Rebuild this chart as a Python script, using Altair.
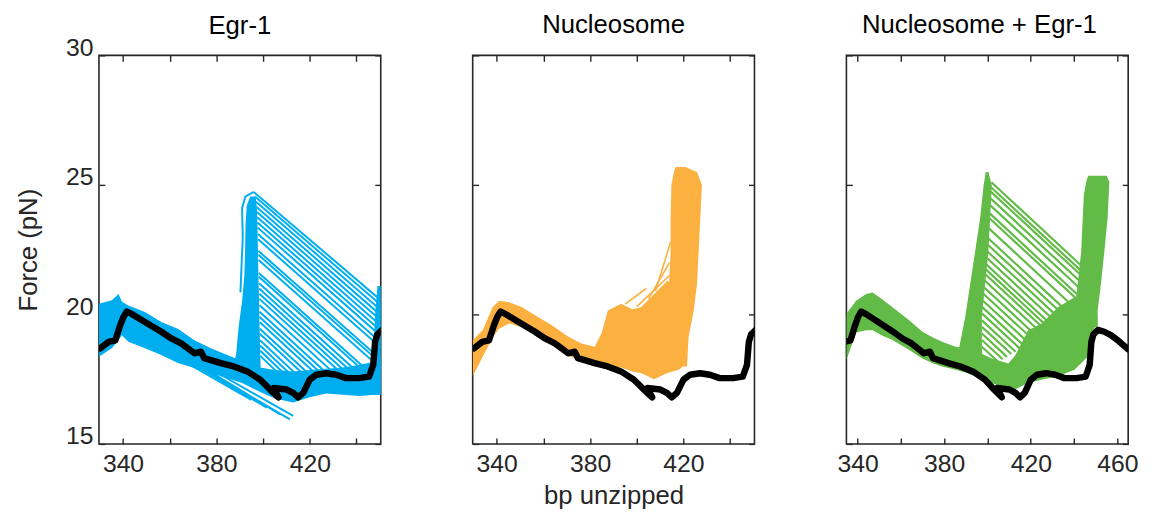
import json
import altair as alt
import pandas as pd

FONT = "Liberation Sans"
AX = "#262626"
BLUE = "#00AEEF"
ORANGE = "#FBB040"
GREEN = "#62BB46"

titles = ["Egr-1", "Nucleosome", "Nucleosome + Egr-1"]
x_ticks = [340, 360, 380, 400, 420, 440, 460]
x_tick_labels = [340, 380, 420, 460]
y_ticks = [15, 20, 25, 30]

# reference (black) curve, shared by all panels
black_x = [330.3, 333.8, 336.7, 338.8, 340.2, 341.6, 343.7, 349.4, 356.4, 360.7, 364.9, 370.6,
           373.4, 374.8, 381.9, 387.5, 393.2, 398.8, 403.0, 406.6, 404.5, 410.1, 412.9, 415.0,
           417.2, 420.0, 422.8, 427.1, 431.3, 435.5, 441.2, 445.4, 447.2, 448.0, 448.9, 451.0,
           454.0, 457.0, 460.1, 465.0]
black_y = [18.69, 18.94, 19.0, 19.58, 19.9, 20.11, 20.02, 19.71, 19.33, 19.07, 18.88, 18.5,
           18.56, 18.31, 18.12, 17.99, 17.8, 17.48, 17.1, 16.8, 17.16, 17.1, 16.97, 16.8,
           16.97, 17.48, 17.67, 17.73, 17.67, 17.54, 17.54, 17.6, 18.05, 18.94, 19.22, 19.4,
           19.33, 19.2, 19.01, 18.65]

# ---- Egr-1 (blue)
egr_band_x = [329.7, 335.2, 338.1, 339.5, 342.3, 349.4, 356.4, 363.5, 370.6, 377.6, 384.7, 391.0,
              398.8, 405.0, 412.9, 420.0, 427.1, 434.1, 441.2, 448.9, 450.4]
egr_band_hi = [20.41, 20.55, 20.79, 20.5, 20.34, 20.09, 19.71, 19.45, 19.0, 18.69, 18.43, 18.2,
               17.95, 17.85, 17.8, 17.85, 17.9, 17.95, 18.05, 18.2, 18.2]
egr_band_lo = [18.37, 18.69, 19.0, 19.2, 18.94, 18.69, 18.43, 18.12, 17.93, 17.73, 17.54, 17.35,
               17.0, 16.75, 16.6, 16.8, 16.95, 16.9, 16.85, 16.91, 16.9]
egr_rise_y = [17.8, 18.5, 19.5, 20.5, 21.5, 22.5, 23.5, 24.2, 24.55]
egr_rise_lo = [387.0, 388.5, 389.5, 391.0, 392.0, 392.3, 392.5, 393.0, 394.5]
egr_rise_hi = [399.0, 398.8, 398.5, 398.3, 398.0, 397.8, 397.6, 397.3, 396.8]
egr_edge_y = [16.9, 18.0, 19.0, 20.0, 21.1]
egr_edge_lo = [446.5, 447.0, 447.5, 448.0, 449.0]
egr_edge_hi = [451.0, 451.0, 451.0, 451.0, 451.0]
egr_d_x1 = [396.0, 396.5, 397.0, 397.2, 397.4, 397.5, 397.6, 397.7, 397.8, 397.9, 398.0, 398.0,
            398.1, 398.2, 398.2, 398.3, 398.3, 398.4, 398.4, 398.5, 398.5, 398.5, 398.6, 398.6,
            398.6, 398.7, 398.7, 398.8, 398.8, 370.6, 374.8, 376.2, 381.9, 366.0]
egr_d_y1 = [24.73, 24.55, 24.35, 24.15, 23.95, 23.75, 23.55, 23.35, 23.1, 22.9, 22.45, 22.3,
            22.1, 21.6, 21.45, 21.2, 21.0, 20.8, 20.6, 20.35, 20.1, 19.9, 19.7, 19.45,
            19.25, 19.0, 18.8, 18.6, 18.4, 18.05, 17.93, 17.8, 17.67, 18.2]
egr_d_x2 = [450.4, 450.4, 450.4, 450.4, 450.4, 450.4, 450.4, 450.4, 450.4, 450.4, 450.4, 450.4,
            450.4, 445.2, 443.3, 440.8, 438.9, 437.0, 435.1, 432.6, 430.1, 428.2, 426.3, 423.8,
            421.9, 419.4, 417.5, 416.2, 415.0, 401.6, 407.3, 411.5, 412.9, 395.0]
egr_d_y2 = [20.55, 20.37, 20.17, 19.97, 19.77, 19.57, 19.37, 19.17, 18.92, 18.72, 18.27, 18.12,
            17.92, 17.8, 17.8, 17.75, 17.7, 17.65, 17.6, 17.55, 17.5, 17.45, 17.4, 17.35,
            17.3, 17.25, 17.2, 17.1, 17.0, 16.4, 16.14, 15.95, 16.08, 16.7]
egr_trace_x = [390.3, 391.3, 391.0, 392.4, 396.0]
egr_trace_y = [20.85, 23.0, 24.1, 24.55, 24.73]

# ---- Nucleosome (orange)
nuc_band_x = [329.7, 334.0, 338.2, 341.0, 345.3, 350.9, 356.6, 363.6, 370.7, 376.3, 382.0, 385.0,
              387.6, 393.3, 398.0, 401.8, 407.4, 413.1, 418.0, 421.5]
nuc_band_hi = [19.0, 19.39, 20.28, 20.53, 20.47, 20.28, 19.96, 19.58, 19.14, 18.88, 18.75, 19.3,
               20.15, 20.41, 20.2, 20.28, 20.79, 21.3, 21.0, 20.4]
nuc_band_lo = [17.61, 18.37, 19.1, 19.45, 19.65, 19.5, 19.2, 18.85, 18.4, 18.2, 18.05, 17.95,
               17.95, 17.95, 17.8, 17.74, 17.5, 17.74, 17.86, 18.12]
nuc_col_y = [17.99, 19.14, 20.15, 21.17, 22.44, 23.72, 24.99, 25.5, 25.69]
nuc_col_lo = [413.1, 413.8, 413.8, 413.8, 414.5, 414.5, 414.8, 415.9, 416.6]
nuc_col_hi = [421.5, 422.2, 424.4, 425.8, 426.5, 427.2, 427.9, 425.8, 420.8]
nuc_d_x1 = [400.0, 405.0, 408.0, 395.0]
nuc_d_y1 = [20.3, 20.6, 20.9, 20.4]
nuc_d_x2 = [414.0, 414.0, 414.5, 404.0]
nuc_d_y2 = [21.5, 22.0, 22.8, 21.0]

# ---- Nucleosome + Egr-1 (green)
grn_band_x = [334.8, 339.3, 343.9, 346.9, 351.0, 356.1, 363.8, 369.9, 375.0, 379.0, 385.2, 390.0,
              394.3, 402.0, 409.6, 412.7, 418.8, 424.9, 432.6, 440.2, 446.3, 449.4]
grn_band_hi = [20.03, 20.53, 20.79, 20.85, 20.6, 20.28, 19.77, 19.33, 19.1, 18.94, 18.75, 18.7,
               18.6, 18.3, 18.1, 18.4, 19.39, 19.64, 20.28, 20.66, 20.6, 19.8]
grn_band_lo = [18.24, 19.3, 19.39, 19.39, 19.2, 19.01, 18.63, 18.3, 18.1, 17.99, 17.86, 17.75,
               17.61, 17.35, 17.1, 17.1, 17.35, 17.48, 17.61, 17.86, 18.37, 19.14]
grn_rise_y = [18.0, 18.63, 19.9, 21.17, 22.44, 23.72, 24.99, 25.5]
grn_rise_lo = [386.0, 386.7, 389.7, 392.0, 394.3, 396.6, 398.2, 399.2]
grn_rise_hi = [398.0, 397.4, 397.4, 398.9, 400.4, 401.2, 402.0, 400.4]
grn_col_y = [19.5, 20.15, 21.17, 22.44, 23.72, 24.6, 25.12, 25.35]
grn_col_lo = [439.0, 440.2, 441.7, 443.3, 444.0, 444.5, 445.6, 446.5]
grn_col_hi = [451.0, 450.9, 452.4, 454.0, 455.5, 456.0, 456.3, 455.0]
grn_d_x1 = [401.8, 401.7, 401.6, 401.4, 401.2, 401.0, 400.8, 400.5, 400.2, 400.0, 399.8, 399.6,
            399.4, 399.2, 399.0, 398.8, 398.5, 398.2, 397.9, 397.6, 397.5, 397.4, 397.4, 397.4,
            397.4, 397.4]
grn_d_y1 = [25.1, 24.9, 24.73, 24.48, 24.22, 23.9, 23.72, 23.33, 22.95, 22.7, 22.44, 22.19,
            21.93, 21.74, 21.55, 21.3, 21.04, 20.79, 20.53, 20.28, 20.03, 19.77, 19.52, 19.26,
            19.01, 18.75]
grn_d_x2 = [443.5, 443.3, 443.0, 442.7, 442.4, 442.0, 441.8, 441.0, 438.0, 436.0, 434.0, 432.0,
            430.0, 428.5, 427.0, 425.0, 423.0, 421.0, 419.0, 417.0, 415.0, 413.0, 411.0, 409.0,
            407.0, 405.0]
grn_d_y2 = [21.87, 21.68, 21.53, 21.28, 21.03, 20.73, 20.55, 20.2, 20.02, 19.91, 19.79, 19.68,
            19.56, 19.47, 19.38, 19.27, 19.14, 19.03, 18.9, 18.78, 18.68, 18.56, 18.47, 18.36,
            18.27, 18.16]

LABEL_EXPR = "indexof(%s, datum.value) >= 0 ? datum.label : ''" % json.dumps(x_tick_labels)


def inward(**kw):
    base = dict(offset=-6, tickSize=6, domain=False, grid=False, tickColor=AX, tickWidth=1.4,
                labelFont=FONT, labelFontSize=25, labelColor=AX, labelPadding=6,
                titleFont=FONT, titleFontSize=26, titleFontWeight="normal", titleColor=AX)
    base.update(kw)
    return alt.Axis(**base)


def make_panel(title, color, xdom, band, rises, segs, traces, show_y, show_xtitle,
               title_dx, title_offset, seg_width):
    xs = alt.Scale(domain=xdom, nice=False, zero=False)
    ys = alt.Scale(domain=[15, 30], nice=False, zero=False)
    x_bottom = inward(values=x_ticks, labelExpr=LABEL_EXPR, orient="bottom", labelPadding=8,
                      title="bp unzipped" if show_xtitle else None, titlePadding=6)
    x_top = inward(values=x_ticks, orient="top", labels=False, title=None)
    y_left = inward(values=y_ticks, orient="left", labels=show_y, labelBaseline="alphabetic",
                    title="Force (pN)" if show_y else None, titlePadding=24)
    y_right = inward(values=y_ticks, orient="right", labels=False, title=None)

    layers = []
    bx, blo, bhi = band
    band_df = pd.DataFrame({"x": bx, "lo": blo, "hi": bhi})
    layers.append(alt.Chart(band_df).mark_area(orient="vertical", color=color, clip=True).encode(
        x=alt.X("x:Q", scale=xs, axis=x_top),
        y=alt.Y("lo:Q", scale=ys, axis=y_right),
        y2="hi:Q"))
    for ry, rlo, rhi in rises:
        rdf = pd.DataFrame({"y": ry, "lo": rlo, "hi": rhi})
        layers.append(alt.Chart(rdf).mark_area(orient="horizontal", color=color, clip=True).encode(
            y=alt.Y("y:Q", scale=ys, axis=None),
            x=alt.X("lo:Q", scale=xs, axis=None),
            x2="hi:Q"))
    sx1, sy1, sx2, sy2 = segs
    sdf = pd.DataFrame({"x": sx1, "y": sy1, "x2": sx2, "y2": sy2})
    layers.append(alt.Chart(sdf).mark_rule(color=color, strokeWidth=seg_width, clip=True).encode(
        x=alt.X("x:Q", scale=xs, axis=None),
        y=alt.Y("y:Q", scale=ys, axis=None),
        x2="x2:Q", y2="y2:Q"))
    for tx, ty in traces:
        tdf = pd.DataFrame({"x": tx, "y": ty, "i": list(range(len(tx)))})
        layers.append(alt.Chart(tdf).mark_line(color=color, strokeWidth=seg_width, clip=True).encode(
            x=alt.X("x:Q", scale=xs, axis=None),
            y=alt.Y("y:Q", scale=ys, axis=None),
            order="i:Q"))
    kdf = pd.DataFrame({"x": black_x, "y": black_y, "i": list(range(len(black_x)))})
    layers.append(alt.Chart(kdf).mark_line(color="black", strokeWidth=6.5, strokeCap="round",
                                           strokeJoin="round", clip=True).encode(
        x=alt.X("x:Q", scale=xs, axis=x_bottom),
        y=alt.Y("y:Q", scale=ys, axis=y_left),
        order="i:Q"))
    return alt.layer(*layers).resolve_axis(x="independent", y="independent").properties(
        width=285, height=393,
        title=alt.TitleParams(title, fontSize=26, font=FONT, fontWeight="normal", color="black",
                              offset=title_offset, dx=title_dx, frame="group", anchor="middle"))


p1 = make_panel(titles[0], BLUE, [329.7, 450.4],
                (egr_band_x, egr_band_lo, egr_band_hi),
                [(egr_rise_y, egr_rise_lo, egr_rise_hi), (egr_edge_y, egr_edge_lo, egr_edge_hi)],
                (egr_d_x1, egr_d_y1, egr_d_x2, egr_d_y2),
                [(egr_trace_x, egr_trace_y)], True, False, 0, -3, 2.0)
p2 = make_panel(titles[1], ORANGE, [329.7, 450.4],
                (nuc_band_x, nuc_band_lo, nuc_band_hi),
                [(nuc_col_y, nuc_col_lo, nuc_col_hi)],
                (nuc_d_x1, nuc_d_y1, nuc_d_x2, nuc_d_y2),
                [], False, True, 0, 17, 1.6)
p3 = make_panel(titles[2], GREEN, [334.8, 465.0],
                (grn_band_x, grn_band_lo, grn_band_hi),
                [(grn_rise_y, grn_rise_lo, grn_rise_hi), (grn_col_y, grn_col_lo, grn_col_hi)],
                (grn_d_x1, grn_d_y1, grn_d_x2, grn_d_y2),
                [], False, False, -8, 17, 2.2)

chart = alt.hconcat(
    p1, p2, p3, spacing=93, bounds="flush",
    padding={"left": 7, "top": 0, "right": 5, "bottom": 5},
).configure(font=FONT).configure_view(stroke=AX, strokeWidth=1.6)

chart.save("out.html", embed_options={"renderer": "svg", "actions": False})
